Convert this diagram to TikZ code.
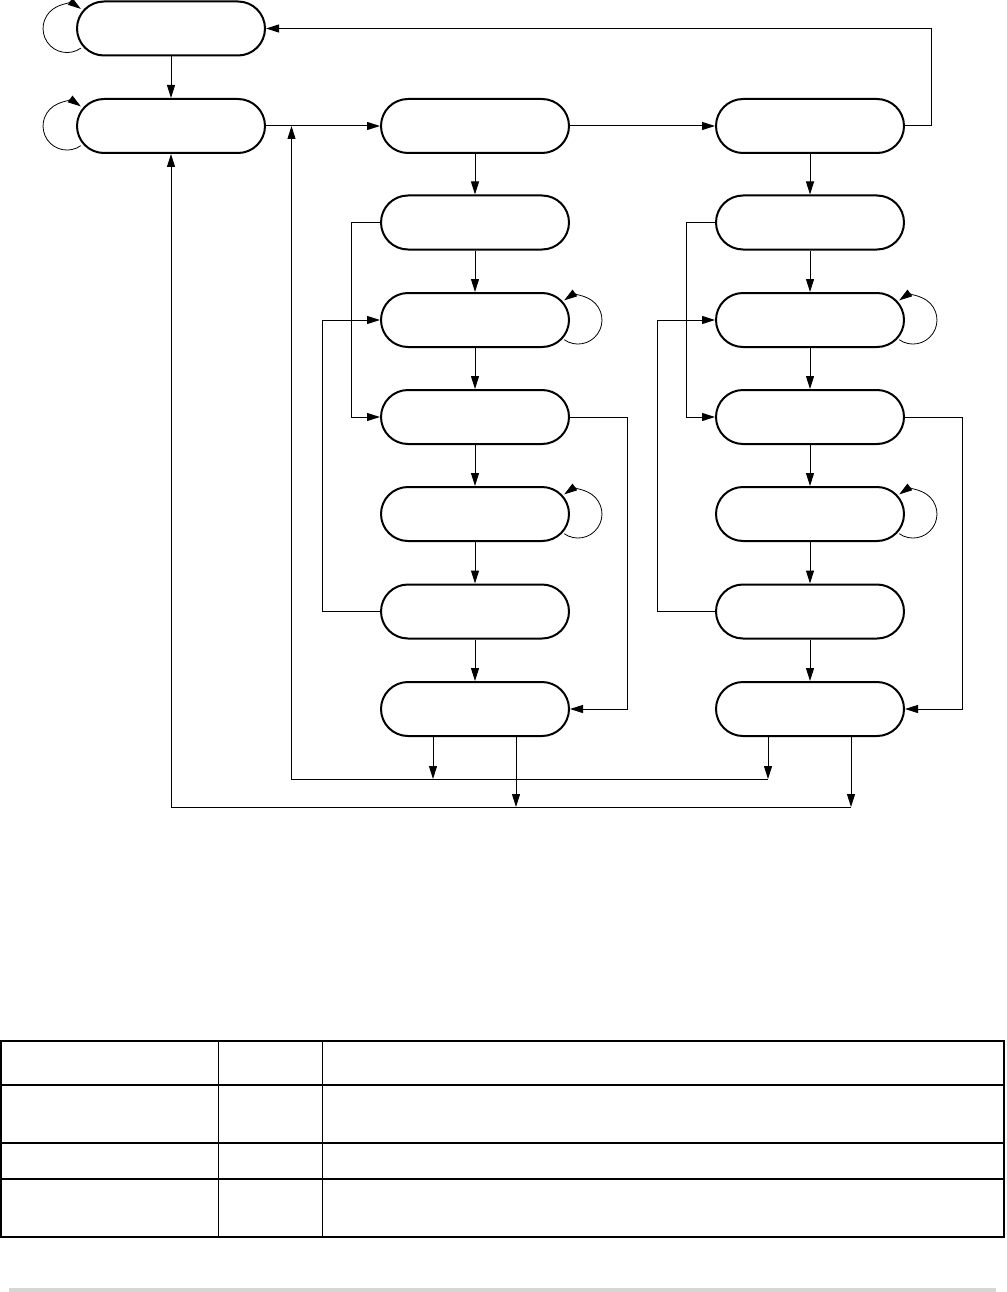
\documentclass[tikz,border=0pt]{standalone}
\usetikzlibrary{shapes.misc,arrows.meta}
\begin{document}
\begin{tikzpicture}[x=1pt,y=-1pt,
  state/.style={rounded rectangle, draw, line width=2pt, minimum width=188pt, minimum height=54pt, inner sep=0pt},
  conn/.style={line width=1pt},
  arr/.style={conn, -{Triangle[length=13pt,width=8pt]}},
  loopl/.style={line width=0.8pt, -{Triangle[length=13pt,width=8pt]}}]
\useasboundingbox (0,0) rectangle (1006,1292);
% nodes
\node[state] (A) at (171,28.5) {};
\node[state] (B) at (171,126) {};
\foreach \c/\x in {1/475,2/810}{
  \foreach \r/\y in {1/126,2/222.5,3/320,4/417,5/514,6/611.5,7/709}{
    \node[state] (c\c r\r) at (\x,\y) {};
  }
}
% main flow
\draw[arr] (A.south) -- (B.north);
\draw[arr] (B.east) -- (c1r1.west);
\draw[arr] (c1r1.east) -- (c2r1.west);
\draw[arr] (c2r1.east) -- ++(26,0) |- (A.east);
% loops on A and B
\draw[loopl] ([shift={(4.8,19.7)}]A.west) arc[start angle=55, end angle=305, radius=24];
\draw[loopl] ([shift={(4.8,19.7)}]B.west) arc[start angle=55, end angle=305, radius=24];
% columns
\foreach \c in {1,2}{
  \draw[arr] (c\c r1.south) -- (c\c r2.north);
  \draw[arr] (c\c r2.south) -- (c\c r3.north);
  \draw[arr] (c\c r3.south) -- (c\c r4.north);
  \draw[arr] (c\c r4.south) -- (c\c r5.north);
  \draw[arr] (c\c r5.south) -- (c\c r6.north);
  \draw[arr] (c\c r6.south) -- (c\c r7.north);
  \draw[arr] (c\c r2.west) -- ++(-28.5,0) |- (c\c r4.west);
  \draw[arr] (c\c r6.west) -- ++(-58,0) |- (c\c r3.west);
  \draw[arr] (c\c r4.east) -- ++(57.5,0) |- (c\c r7.east);
  \draw[loopl] ([shift={(-5.8,19.7)}]c\c r3.east) arc[start angle=125, end angle=-125, radius=24];
  \draw[loopl] ([shift={(-5.8,19.7)}]c\c r5.east) arc[start angle=125, end angle=-125, radius=24];
}
% buses
\coordinate (busA) at (0,779);
\coordinate (busB) at (0,807);
\coordinate (a1) at ([xshift=-42pt]c1r7.south |- busA);
\coordinate (a2) at ([xshift=-42pt]c2r7.south |- busA);
\coordinate (b1) at ([xshift=41pt]c1r7.south |- busB);
\coordinate (b2) at ([xshift=41pt]c2r7.south |- busB);
\coordinate (a0) at (291.5,779);
\coordinate (b0) at (B.south |- busB);
\draw[arr] ([xshift=-42pt]c1r7.south) -- (a1);
\draw[arr] ([xshift=-42pt]c2r7.south) -- (a2);
\draw[arr] ([xshift=41pt]c1r7.south) -- (b1);
\draw[arr] ([xshift=41pt]c2r7.south) -- (b2);
\draw[arr] (a2) -- (a0) -- (a0 |- B.east);
\draw[arr] (b2) -- (b0) -- (B.south);
% table
\draw[line width=1.4pt] (1,1041) rectangle (1004,1237);
\draw[line width=1.4pt] (1,1085) -- (1004,1085) (1,1143) -- (1004,1143) (1,1179) -- (1004,1179);
\draw[line width=0.8pt] (218,1041) -- (218,1237) (322,1041) -- (322,1237);
% bottom grey bar
\fill[fill={rgb,255:red,214;green,214;blue,214}] (9,1287.5) rectangle (996,1292);
\end{tikzpicture}
\end{document}
